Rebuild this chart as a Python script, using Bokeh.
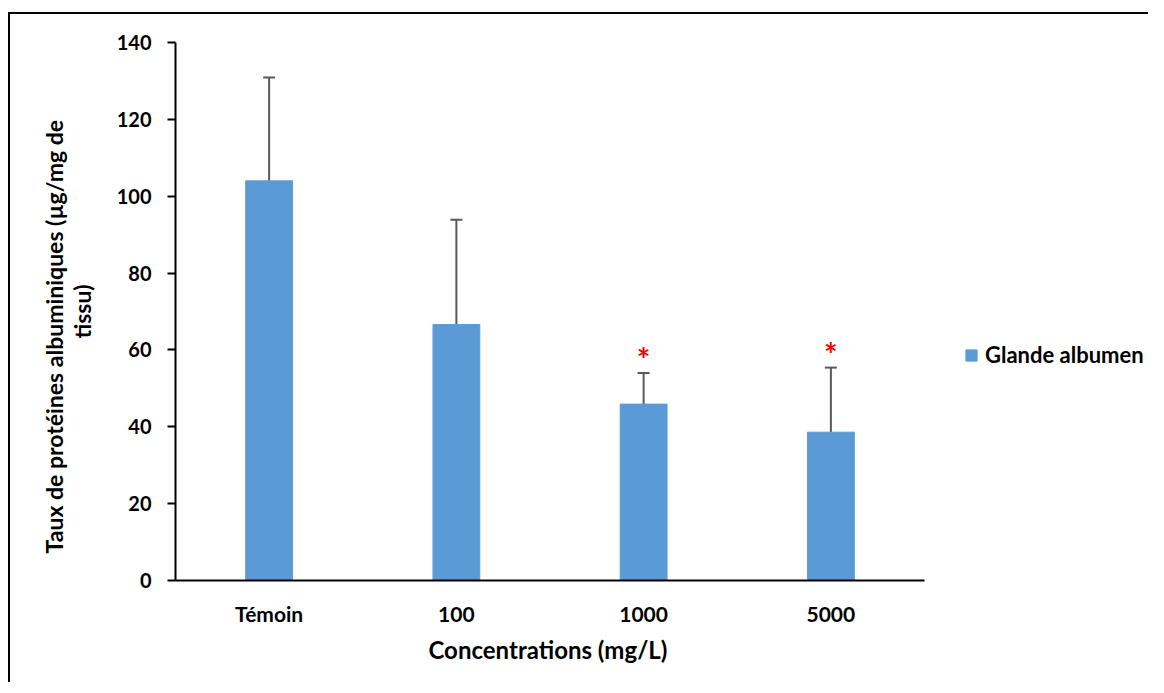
import numpy as np
from bokeh.plotting import figure
from bokeh.models import (ColumnDataSource, Range1d, Whisker, TeeHead, Legend, LegendItem,
                          FixedTicker, Title)
from bokeh.core.properties import value
from bokeh.embed import file_html
from bokeh.resources import INLINE

categories = ["Témoin", "100", "1000", "5000"]
means = [104.0, 66.6, 45.9, 38.6]
upper = [130.9, 93.9, 54.0, 55.4]
signif = ["", "", "*", "*"]
series_name = "Glande albumen"
y_ticks = [0, 20, 40, 60, 80, 100, 120, 140]
x_title = "Concentrations (mg/L)"
y_title_lines = ["Taux de protéines albuminiques (µg/mg de", "tissu)"]

FONT = "Lato"
BAR = "#5B9BD5"
ERR = "#595959"

# layout constants (pixels)
CANVAS_W, CANVAS_H = 1140, 670
LEFT, TOP, BOTTOM = 165, 28, 104
AXIS_W = 749                      # length of the category axis
FRAME_W = CANVAS_W - LEFT         # frame reaches the right edge (legend lives inside)

n = len(categories)
xpos = np.arange(n) + 0.5
src = ColumnDataSource(dict(x=xpos, cat=categories, mean=means, upper=upper, sig=signif))

p = figure(x_range=Range1d(0, n * FRAME_W / AXIS_W), y_range=Range1d(0, 140),
           width=CANVAS_W, height=CANVAS_H, output_backend="svg", toolbar_location=None,
           min_border_left=LEFT, min_border_right=0, min_border_top=TOP,
           min_border_bottom=BOTTOM,
           styles={"border-left": "2px solid black", "border-top": "2px solid black",
                   "margin-top": "12px", "margin-left": "8px"})
p.outline_line_color = None
p.grid.grid_line_color = None
p.background_fill_color = "white"
p.border_fill_color = "white"

bars = p.vbar(x="x", top="mean", width=0.25, source=src, fill_color=BAR, line_color=BAR)

w = Whisker(base="x", upper="upper", lower="mean", source=src,
            line_color=ERR, line_width=2,
            upper_head=TeeHead(size=12, line_color=ERR, line_width=2),
            lower_head=None)
p.add_layout(w)

p.text(x="x", y="upper", text="sig", source=src, text_color="red",
       text_font=value(FONT), text_font_style="bold", text_font_size="32px",
       text_align="center", text_baseline="middle", y_offset=-13)

# y axis
p.yaxis.ticker = y_ticks
p.yaxis.axis_line_width = 2
p.yaxis.axis_line_color = "black"
p.yaxis.major_tick_line_width = 2
p.yaxis.major_tick_out = 8
p.yaxis.major_tick_in = 0
p.yaxis.minor_tick_line_color = None
p.yaxis.major_label_text_font = FONT
p.yaxis.major_label_text_font_style = "bold"
p.yaxis.major_label_text_font_size = "20px"
p.yaxis.major_label_text_color = "black"
p.yaxis.major_label_standoff = 16
p.yaxis.axis_label = y_title_lines[1]
p.yaxis.axis_label_text_font = FONT
p.yaxis.axis_label_text_font_style = "bold"
p.yaxis.axis_label_text_font_size = "23px"
p.yaxis.axis_label_text_color = "black"
p.yaxis.axis_label_standoff = 18

# x axis
p.xaxis.ticker = FixedTicker(ticks=list(xpos))
p.xaxis.major_label_overrides = {float(x): c for x, c in zip(xpos, categories)}
p.xaxis.bounds = (0, n)
p.xaxis.axis_line_width = 2
p.xaxis.axis_line_color = "black"
p.xaxis.major_tick_line_color = None
p.xaxis.major_tick_out = 0
p.xaxis.minor_tick_line_color = None
p.xaxis.major_label_text_font = FONT
p.xaxis.major_label_text_font_style = "bold"
p.xaxis.major_label_text_font_size = "21px"
p.xaxis.major_label_text_color = "black"
p.xaxis.major_label_standoff = 20

# axis titles
tx = Title(text=x_title, align="left", offset=253, standoff=9,
           text_font=FONT, text_font_style="bold", text_font_size="24px",
           text_color="black")
p.add_layout(tx, "below")

ty1 = Title(text=y_title_lines[0], align="left", offset=27, standoff=-7,
            text_font=FONT, text_font_style="bold", text_font_size="23px",
            text_color="black")
p.add_layout(ty1, "left")

legend = Legend(items=[LegendItem(label=series_name, renderers=[bars])],
                location=(789, 212), orientation="vertical",
                background_fill_alpha=0, border_line_color=None,
                padding=0, margin=0, spacing=0,
                glyph_width=14, glyph_height=14, label_standoff=7,
                label_text_font=FONT, label_text_font_style="bold",
                label_text_font_size="22px", label_text_color="black")
p.add_layout(legend)

open("out.html", "w").write(file_html(p, INLINE))
